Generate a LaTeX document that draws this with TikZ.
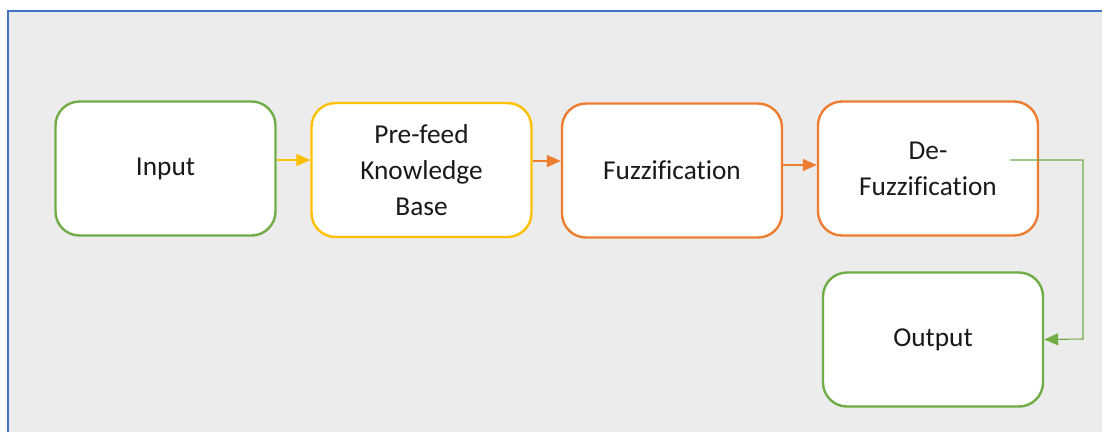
\documentclass[tikz,border=0pt]{standalone}
\usepackage{fontspec}
\setmainfont{Carlito}[Ligatures=NoCommon]
\usetikzlibrary{arrows.meta}
\definecolor{framegray}{HTML}{ECECEC}
\definecolor{frameblue}{HTML}{4472C4}
\definecolor{okgreen}{HTML}{70AD47}
\definecolor{warmyellow}{HTML}{FFC000}
\definecolor{hotorange}{HTML}{ED7D31}
\tikzset{
  block/.style={draw=#1, line width=2.4pt, fill=white, rounded corners=24pt,
    minimum width=220pt, minimum height=134pt, inner sep=0pt,
    align=center, font=\fontsize{27.3}{36}\selectfont, text=black!90},
  link/.style={draw=#1, line width=1.4pt,
    -{Triangle[length=14pt,width=12pt]}},
}
\begin{document}
\begin{tikzpicture}[x=1pt,y=-1pt]
  \useasboundingbox (0,0) rectangle (1102,432);
  \fill[white] (0,0) rectangle (1102,432);
  \fill[framegray] (8,11) rectangle (1102,432);
  \draw[frameblue, line width=2pt] (8,432) -- (8,11) -- (1102,11);

  \node[block=okgreen]     (input) at (165.5,168.5) {Input};
  \node[block=warmyellow]  (pre)   at (421.5,170)   {Pre-feed\\Knowledge\\Base};
  \node[block=hotorange]   (fuzz)  at (672,170.5)   {Fuzzification};
  \node[block=hotorange]   (defuz) at (928,168.5)   {De-\\Fuzzification};
  \node[block=okgreen]     (out)   at (933,339.5)   {Output};

  \coordinate (tap) at (1010,160);
  \draw[link=warmyellow] (input.east |- 0,160) -- (pre.west |- 0,160);
  \draw[link=hotorange]  (pre.east |- 0,161) -- (fuzz.west |- 0,161);
  \draw[link=hotorange]  (fuzz.east |- 0,165) -- (defuz.west |- 0,165);
  \draw[link=okgreen, line width=1.1pt]
    (tap) -- (1083,160) -- (1083,339) -- (out.east);
\end{tikzpicture}
\end{document}
